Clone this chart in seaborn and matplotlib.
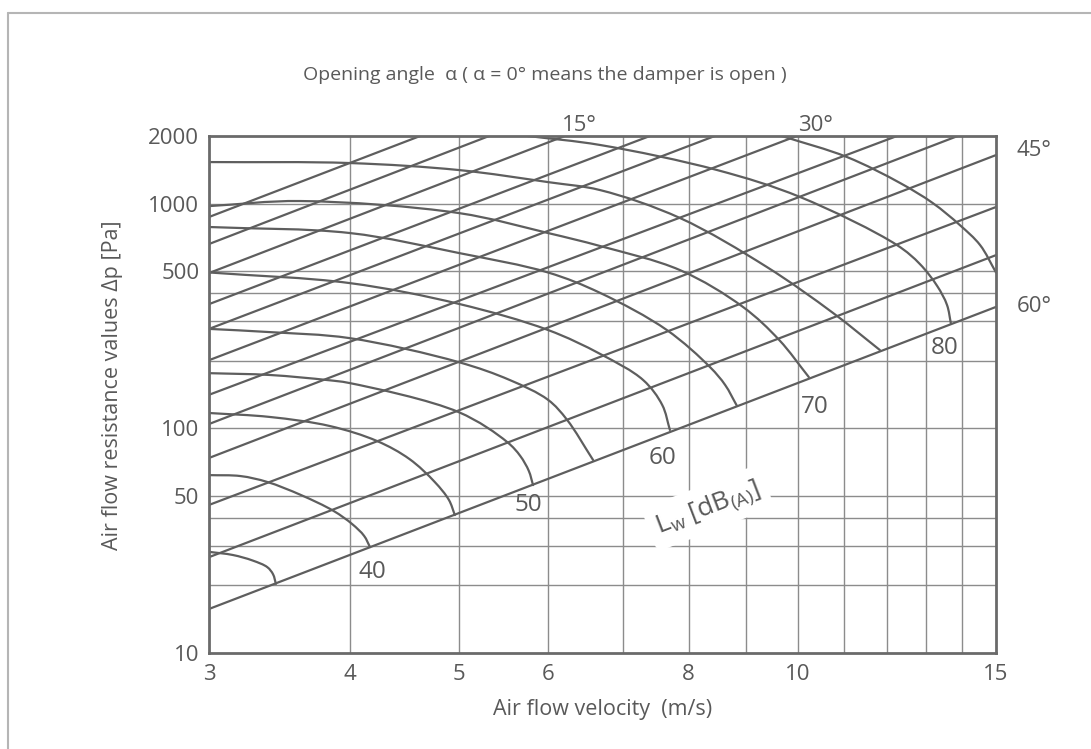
import matplotlib
matplotlib.use("Agg")
import matplotlib.pyplot as plt
import numpy as np
import pandas as pd
import seaborn as sns
from matplotlib.lines import Line2D
from matplotlib.path import Path
from matplotlib.patches import PathPatch

# ---- data -------------------------------------------------------------
x_ticks = [3, 4, 5, 6, 8, 10, 15]
y_ticks = [10, 50, 100, 500, 1000, 2000]
x_grid = [4, 5, 6, 7, 8, 9, 10, 11, 12, 13, 14]
y_grid = [20, 30, 40, 50, 100, 200, 300, 400, 500, 1000]

# damper angle lines: start point (v, dp) and end point (v, dp)
angle_deg = [5, 10, 15, 20, 25, 30, 35, 40, 45, 50, 55, 60]
angle_v0 = [3, 3, 3, 3, 3, 3, 3, 3, 3, 3, 3, 3]
angle_dp0 = [872, 661, 491, 357, 277, 201, 141, 104.5, 73.8, 45.6, 26.7, 15.7]
angle_v1 = [4.62, 5.32, 6.21, 7.39, 8.44, 9.98, 12.25, 13.87, 15, 15, 15, 15]
angle_dp1 = [2000, 2000, 2000, 2000, 2000, 2000, 2000, 2000, 1645, 966, 590, 347]
angle_labels = ["15°", "30°", "45°", "60°"]

# sound power level curves  Lw [dB(A)]
lw35_v = [3.00, 3.15, 3.28, 3.38, 3.42, 3.44]
lw35_dp = [28.2, 27.3, 25.8, 24.1, 22.4, 20.3]
lw40_v = [3.00, 3.20, 3.38, 3.62, 3.87, 4.02, 4.12, 4.17]
lw40_dp = [61.9, 61.3, 57.7, 50.5, 42.9, 37.5, 33.2, 29.6]
lw45_v = [3.00, 3.40, 3.84, 4.23, 4.52, 4.76, 4.90, 4.96]
lw45_dp = [117, 112.3, 102.4, 87.8, 73.0, 57.7, 48.0, 41.1]
lw50_v = [3.00, 3.40, 3.82, 4.00, 5.00, 5.52, 5.67, 5.77, 5.82]
lw50_dp = [176, 172.7, 164, 159, 118, 86.9, 75.3, 64.6, 55.9]
lw55_v = [3.00, 3.40, 4.00, 5.00, 5.55, 6.00, 6.24, 6.58]
lw55_dp = [277, 268, 252, 197, 164, 134, 109, 72.3]
lw60_v = [3.00, 4.00, 5.00, 6.00, 6.68, 7.29, 7.58, 7.70]
lw60_dp = [494, 443, 358, 274, 214, 164, 127, 98.3]
lw65_v = [3.00, 4.00, 5.00, 6.00, 6.68, 7.65, 8.36, 8.62, 8.83]
lw65_dp = [787, 740, 603, 494, 400, 274, 187, 156, 126]
lw70_v = [3.00, 3.62, 5.00, 6.00, 6.68, 7.86, 8.94, 9.63, 10.23]
lw70_dp = [975, 1027, 908, 740, 647, 506, 347, 247, 169]
lw75_v = [3.00, 4.00, 5.00, 6.00, 6.68, 7.86, 9.39, 10.75, 11.83]
lw75_dp = [1531, 1516, 1411, 1247, 1148, 863, 522, 326, 223]
lw80_v = [5.76, 6.68, 8.48, 10.05, 12.25, 12.84, 13.30, 13.57, 13.68]
lw80_dp = [2000, 1823, 1411, 1070, 654, 538, 430, 354, 292]
lw85_v = [9.68, 11.06, 12.33, 13.18, 13.93, 14.52, 15.0]
lw85_dp = [2000, 1612, 1235, 1006, 803, 654, 494]

lw_labels = ["40", "50", "60", "70", "80"]
lw_label_v = [4.19, 5.76, 7.59, 10.36, 13.51]
lw_label_dp = [22.9, 45.6, 73.8, 124, 227]

# ---- style ------------------------------------------------------------
sns.set_theme(style="white")
plt.rcParams["font.family"] = ["Open Sans", "DejaVu Sans"]
plt.rcParams["mathtext.fontset"] = "custom"
plt.rcParams["mathtext.rm"] = "Open Sans"

TXT = "#595959"
LINE = "#5e5e5e"
GRID = "#8c8c8c"

fig = plt.figure(figsize=(10.91, 7.49), dpi=100)
ax = fig.add_axes([209 / 1091, 1 - 653 / 749, 787 / 1091, 517 / 749])
ax.set_xscale("log")
ax.set_yscale("log")
ax.set_xlim(3, 15)
ax.set_ylim(10, 2000)

for v in x_grid:
    ax.axvline(v, color=GRID, lw=1.0, zorder=1)
for p in y_grid:
    ax.axhline(p, color=GRID, lw=1.0, zorder=1)

# straight damper-angle lines
rows = []
for a, v0, p0, v1, p1 in zip(angle_deg, angle_v0, angle_dp0, angle_v1, angle_dp1):
    rows.append({"v": v0, "dp": p0, "line": f"a{a}"})
    rows.append({"v": v1, "dp": p1, "line": f"a{a}"})
df = pd.DataFrame(rows)
sns.lineplot(data=df, x="v", y="dp", units="line", estimator=None, sort=False,
             color=LINE, lw=1.6, ax=ax, zorder=3)


def smooth_path(axis, vs, ps, alpha=0.5):
    """Centripetal Catmull-Rom curve through the given points, as Bezier path."""
    pts = axis.transData.transform(np.column_stack([vs, ps]))
    ext = np.vstack([2 * pts[0] - pts[1], pts, 2 * pts[-1] - pts[-2]])
    verts, codes = [pts[0]], [Path.MOVETO]
    for i in range(len(pts) - 1):
        p0, p1, p2, p3 = ext[i], ext[i + 1], ext[i + 2], ext[i + 3]
        d1 = np.linalg.norm(p1 - p0) ** alpha
        d2 = np.linalg.norm(p2 - p1) ** alpha
        d3 = np.linalg.norm(p3 - p2) ** alpha
        b1 = (d1**2 * p2 - d2**2 * p0 + (2 * d1**2 + 3 * d1 * d2 + d2**2) * p1) / (3 * d1 * (d1 + d2))
        b2 = (d3**2 * p1 - d2**2 * p3 + (2 * d3**2 + 3 * d3 * d2 + d2**2) * p2) / (3 * d3 * (d3 + d2))
        verts += [b1, b2, p2]
        codes += [Path.CURVE4] * 3
    verts = axis.transData.inverted().transform(np.array(verts))
    return Path(verts, codes)


curves = [
    (lw35_v, lw35_dp), (lw40_v, lw40_dp), (lw45_v, lw45_dp), (lw50_v, lw50_dp),
    (lw55_v, lw55_dp), (lw60_v, lw60_dp), (lw65_v, lw65_dp), (lw70_v, lw70_dp),
    (lw75_v, lw75_dp), (lw80_v, lw80_dp), (lw85_v, lw85_dp),
]
for vs, ps in curves:
    ax.add_patch(PathPatch(smooth_path(ax, vs, ps), fc="none", ec=LINE, lw=1.6,
                           zorder=3, capstyle="round"))

# axes cosmetics
for s in ax.spines.values():
    s.set_color("#6a6a6a")
    s.set_linewidth(2.0)
    s.set_zorder(5)
ax.set_xticks(x_ticks)
ax.set_xticklabels([str(t) for t in x_ticks])
ax.set_yticks(y_ticks)
ax.set_yticklabels([str(t) for t in y_ticks])
ax.minorticks_off()
ax.tick_params(axis="both", length=0, labelsize=16, colors=TXT, pad=7)
ax.tick_params(axis="x", pad=8)

ax.set_xlabel("Air flow velocity  (m/s)", fontsize=15.5, color=TXT, labelpad=10)
ax.set_ylabel("Air flow resistance values Δp [Pa]", fontsize=15.5, color=TXT)
ax.yaxis.set_label_coords(-0.109, 0.518)

# level labels on the curves
for t, v, p in zip(lw_labels, lw_label_v, lw_label_dp):
    ax.text(v, p, t, fontsize=17.5, color=TXT, ha="center", va="center", zorder=6)

# angle labels
ax.text(6.40, 2000, angle_labels[0], fontsize=16, color=TXT, ha="center", va="bottom", zorder=6)
ax.text(10.36, 2000, angle_labels[1], fontsize=16, color=TXT, ha="center", va="bottom", zorder=6)
ax.text(1.026, 1732, angle_labels[2], transform=ax.get_yaxis_transform(), fontsize=16,
        color=TXT, ha="left", va="center", clip_on=False)
ax.text(1.026, 350, angle_labels[3], transform=ax.get_yaxis_transform(), fontsize=16,
        color=TXT, ha="left", va="center", clip_on=False)

ax.text(8.32, 44.2, r"L$_\mathregular{w}$ [dB$_\mathregular{(A)}$]", fontsize=19, color=TXT,
        rotation=21, rotation_mode="anchor", ha="center", va="center", zorder=4,
        bbox=dict(boxstyle="round,pad=0.3", fc="white", ec="none"))

fig.text(545 / 1091, 1 - 75 / 749,
         "Opening angle  α ( α = 0° means the damper is open )",
         fontsize=14, color=TXT, ha="center", va="center")

# outer frame
fig.add_artist(Line2D([8 / 1091, 8 / 1091], [0, 1 - 13 / 749], transform=fig.transFigure,
                      color="#b5b5b5", lw=1.5))
fig.add_artist(Line2D([8 / 1091, 1], [1 - 13 / 749, 1 - 13 / 749], transform=fig.transFigure,
                      color="#b5b5b5", lw=1.5))

fig.savefig("out.png", dpi=100)
